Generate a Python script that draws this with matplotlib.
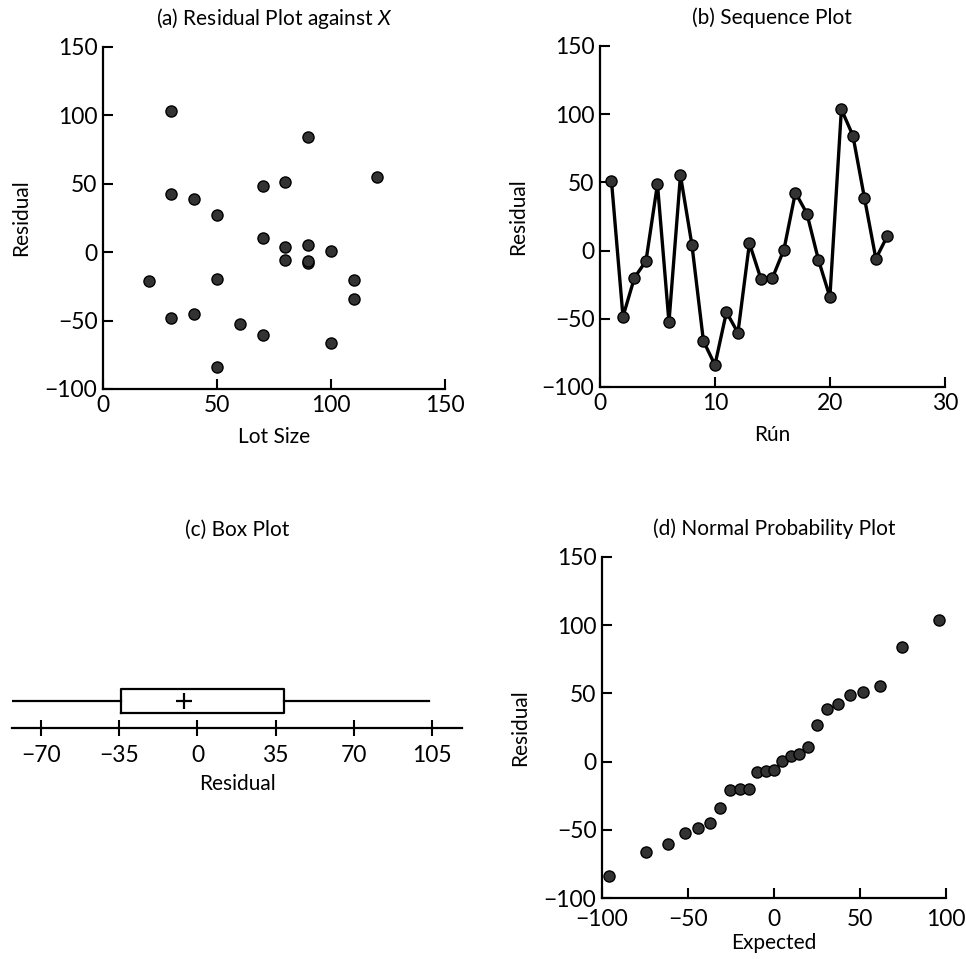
import matplotlib
matplotlib.use("Agg")
import matplotlib.pyplot as plt
import numpy as np

plt.rcParams['font.family'] = ['Lato', 'DejaVu Sans']
plt.rcParams['mathtext.fontset'] = 'custom'
plt.rcParams['mathtext.it'] = 'Lato:italic'
plt.rcParams['mathtext.rm'] = 'Lato'

# Toluca runs: lot size and fitted-model residuals
run = [1, 2, 3, 4, 5, 6, 7, 8, 9, 10, 11, 12, 13,
       14, 15, 16, 17, 18, 19, 20, 21, 22, 23, 24, 25]
lot_size = [80, 30, 50, 90, 70, 60, 120, 80, 100, 50, 40, 70, 90,
            20, 110, 100, 30, 50, 90, 110, 30, 90, 40, 80, 70]
residual = [51.02, -48.47, -19.88, -7.68, 48.72, -52.58, 55.21, 4.02, -66.39,
            -83.88, -45.17, -60.28, 5.32, -20.77, -20.09, 0.61, 42.53, 27.12,
            -6.68, -34.09, 103.53, 84.32, 38.83, -5.98, 10.72]

# expected values under normality, ranked order
expected = [-95.9, -74.2, -61.5, -51.9, -44.1, -37.3, -31.1, -25.3, -19.9,
            -14.7, -9.7, -4.9, 0.0, 4.9, 9.7, 14.7, 19.9, 25.3, 31.1, 37.3,
            44.1, 51.9, 61.5, 74.2, 95.9]

box_ticks = [-70, -35, 0, 35, 70, 105]

TICK_FS = 16.5
LABEL_FS = 15
TITLE_FS = 15
DOT = dict(marker='o', ms=8, mfc='#333333', mec='black', mew=1.0)

fig = plt.figure(figsize=(9.66, 9.59), dpi=100)


def style(ax):
    for s in ('top', 'right'):
        ax.spines[s].set_visible(False)
    for s in ('left', 'bottom'):
        ax.spines[s].set_linewidth(1.6)
    ax.tick_params(direction='in', length=7, width=1.5, labelsize=TICK_FS, pad=4)


# (a) residuals against lot size
ax1 = fig.add_axes([0.1066, 0.5944, 0.354, 0.3566])
ax1.plot(lot_size, residual, ls='none', **DOT)
ax1.set_xlim(0, 150)
ax1.set_ylim(-100, 150)
ax1.set_xticks([0, 50, 100, 150])
ax1.set_yticks([-100, -50, 0, 50, 100, 150])
style(ax1)
ax1.set_xlabel("Lot Size", fontsize=LABEL_FS, labelpad=8)
ax1.set_ylabel("Residual", fontsize=LABEL_FS, labelpad=10)
ax1.set_title("(a) Residual Plot against $X$", fontsize=TITLE_FS, pad=16)

# (b) sequence plot
ax2 = fig.add_axes([0.6211, 0.5965, 0.357, 0.3556])
ax2.plot(run, residual, color='black', lw=2.4, **DOT)
ax2.set_xlim(0, 30)
ax2.set_ylim(-100, 150)
ax2.set_xticks([0, 10, 20, 30])
ax2.set_yticks([-100, -50, 0, 50, 100, 150])
style(ax2)
ax2.set_xlabel("Rún", fontsize=LABEL_FS, labelpad=8)
ax2.set_ylabel("Residual", fontsize=LABEL_FS, labelpad=10)
ax2.set_title("(b) Sequence Plot", fontsize=TITLE_FS, pad=16)

# (c) box plot
ax3 = fig.add_axes([0.0124, 0.2409, 0.466, 0.1043])
q1, med, q3 = np.percentile(residual, [25, 50, 75])
stats = [dict(med=med, q1=q1, q3=q3, whislo=min(residual), whishi=max(residual), fliers=[])]
ax3.bxp(stats, positions=[0.27], widths=0.24, orientation='horizontal',
        showcaps=False, showfliers=False,
        boxprops=dict(color='black', lw=1.6),
        whiskerprops=dict(color='black', lw=1.6),
        medianprops=dict(visible=False))
ax3.plot(med, 0.27, marker='+', ms=12, mew=1.6, color='black')
ax3.set_xlim(-83, 118.4)
ax3.set_ylim(0, 1)
ax3.set_xticks(box_ticks)
ax3.set_xticklabels([str(t).replace('-', '\u2212') for t in box_ticks])
ax3.set_yticks([])
for s in ('top', 'right', 'left'):
    ax3.spines[s].set_visible(False)
ax3.spines['bottom'].set_linewidth(1.6)
ax3.tick_params(axis='x', direction='inout', length=12, width=1.5,
                labelsize=TICK_FS, pad=6)
ax3.set_xlabel("Residual", fontsize=LABEL_FS, labelpad=6)
ax3.patch.set_visible(False)
fig.text(0.2453, 0.4473, "(c) Box Plot", fontsize=TITLE_FS, ha='center', va='center')

# (d) normal probability plot
ax4 = fig.add_axes([0.6232, 0.0636, 0.356, 0.3556])
ax4.plot(expected, sorted(residual), ls='none', **DOT)
ax4.set_xlim(-100, 100)
ax4.set_ylim(-100, 150)
ax4.set_xticks([-100, -50, 0, 50, 100])
ax4.set_yticks([-100, -50, 0, 50, 100, 150])
style(ax4)
ax4.tick_params(axis='x', pad=8)
ax4.set_xlabel("Expected", fontsize=LABEL_FS, labelpad=2)
ax4.set_ylabel("Residual", fontsize=LABEL_FS, labelpad=10)
ax4.set_title("(d) Normal Probability Plot", fontsize=TITLE_FS, pad=16)

fig.savefig("out.png", dpi=100)
